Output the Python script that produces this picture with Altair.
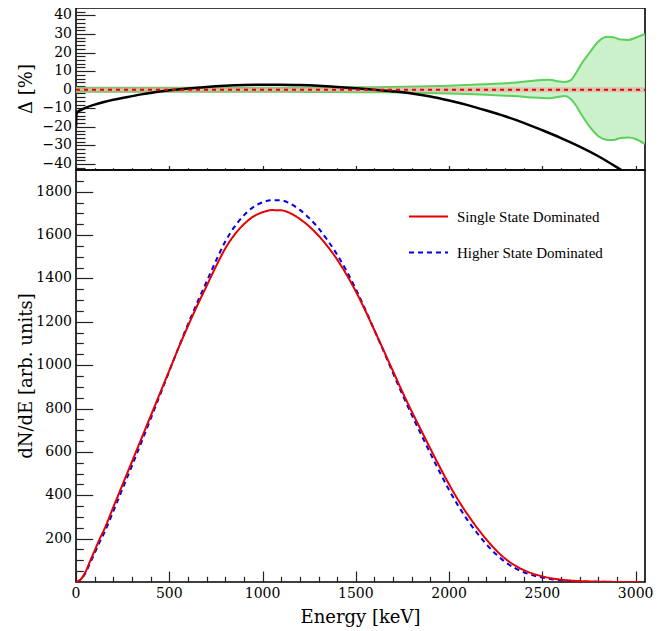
import altair as alt
import pandas as pd

# ---------------- data ----------------
SSD_NAME = "Single State Dominated"
HSD_NAME = "Higher State Dominated"

energy_kev = [0, 25, 50, 75, 100, 125, 150,
              200, 250, 300, 350, 400, 450, 500, 550, 600, 650, 700, 750, 800, 850, 900, 950, 1000,
              1050, 1100, 1150, 1200, 1250, 1300, 1350, 1400, 1450, 1500, 1550, 1600, 1650, 1700, 1750,
              1800, 1850, 1900, 1950, 2000, 2050, 2100, 2150, 2200, 2250, 2300, 2350, 2400, 2450, 2500,
              2550, 2600, 2700, 2800, 2900, 3000, 3034]
single_state = [0, 12, 45, 95, 145, 195, 240,
                345, 450, 555, 660, 765, 870, 975, 1080, 1180, 1275, 1365, 1455, 1538, 1602, 1650, 1685, 1705,
                1715, 1714, 1700, 1674, 1640, 1597, 1546, 1487, 1418, 1340, 1253, 1160, 1066, 971, 876,
                786, 700, 614, 530, 450, 376, 310, 250, 196, 148, 108, 78, 55, 38, 26,
                17, 11, 4, 1.5, 0.4, 0, 0]
higher_state = [0, 10.6, 40.6, 86.5, 133, 181, 224,
                326, 431, 536, 643, 752, 862, 972, 1082, 1188, 1289, 1385, 1481, 1570, 1639, 1691, 1729, 1751,
                1761, 1760, 1744, 1716, 1678, 1631, 1574, 1509, 1435, 1351, 1258, 1160, 1062, 962, 864,
                770, 680, 592, 506, 424, 350, 284, 226, 174, 129, 92.5, 65.5, 45, 30.5, 20.3,
                12.9, 8.1, 2.8, 1.0, 0.2, 0, 0]

delta_energy = [0, 3, 10, 30, 50, 100, 150, 200, 270, 350, 450, 500, 600, 700, 800, 900, 1000, 1100,
                1200, 1300, 1400, 1500, 1600, 1700, 1800, 1900, 2000, 2100, 2200, 2300, 2400, 2500,
                2600, 2700, 2800, 2900, 2935]
delta_percent = [-20, -13, -11.8, -10.8, -9.8, -8.0, -6.6, -5.4, -4.0, -2.5, -0.9, -0.3, 0.7, 1.5, 2.1,
                 2.5, 2.7, 2.7, 2.5, 2.1, 1.5, 0.8, 0.0, -0.9, -2.0, -3.6, -5.8, -8.3, -11.2, -14.3,
                 -17.8, -21.8, -26.0, -30.6, -35.8, -41.8, -44]

band_energy = [0, 250, 500, 750, 1000, 1250, 1500, 1750, 2000, 2100, 2200, 2300, 2400, 2450, 2500,
               2540, 2580, 2620, 2650, 2680, 2710, 2750, 2800, 2850, 2880, 2920, 2960, 3000, 3050]
band_upper = [1.1, 1.1, 1.1, 1.1, 1.1, 1.2, 1.3, 1.6, 2.2, 2.6, 3.0, 3.5, 4.3, 4.9, 5.3,
              5.4, 4.6, 4.2, 5.0, 9.0, 14.0, 19.5, 26.0, 28.5, 28.3, 27.0, 26.8, 28.0, 30.0]
band_lower = [-1.1, -1.1, -1.1, -1.1, -1.1, -1.2, -1.3, -1.5, -2.0, -2.3, -2.7, -3.2, -3.8, -4.2, -4.5,
              -4.6, -3.9, -3.4, -4.8, -8.5, -13.5, -19.5, -25.0, -27.0, -27.1, -26.0, -25.7, -26.5, -29.2]

zero_band_energy = [0, 3050]
zero_band_upper = [1.4, 1.4]
zero_band_lower = [-1.4, -1.4]
zero_line = [0, 0]

x_major = [0, 500, 1000, 1500, 2000, 2500, 3000]
x_minor = [e for e in range(0, 3050, 100) if e % 500 != 0]
top_y_major = [-40, -30, -20, -10, 0, 10, 20, 30, 40]
top_y_minor = [v for v in range(-42, 44, 2) if v % 10 != 0]
bot_y_major = [200, 400, 600, 800, 1000, 1200, 1400, 1600, 1800]
bot_y_minor = [v for v in range(50, 1900, 50) if v % 200 != 0]

TITLE_DELTA = "Δ [%]"
TITLE_Y = "dN/dE [arb. units]"
TITLE_X = "Energy [keV]"

# ---------------- layout ----------------
FONT_LEGEND = "Liberation Serif"
FONT = "DejaVu Serif"
W, H_TOP, H_BOT = 569, 162, 412
xs = alt.Scale(domain=[0, 3050], nice=False, zero=False)
ys_top = alt.Scale(domain=[-43.2, 44.0], nice=False, zero=False)
ys_bot = alt.Scale(domain=[0, 1900], nice=False, zero=False)


def tick_x(h, values, size):
    return alt.Axis(orient="top", offset=-h, values=values, labels=False, tickSize=size,
                    tickWidth=1.2, tickColor="#222222", domain=False, grid=False, title=None)


def tick_y(values, size):
    return alt.Axis(orient="right", offset=-W, values=values, labels=False, tickSize=size,
                    tickWidth=1.2, tickColor="#222222", domain=False, grid=False, title=None)


def tick_layers(df, xf, yf, yscale, h, xmaj, xmajs, xmin, xmins, ymaj, ymajs, ymin, ymins):
    a = alt.Chart(df).mark_point(opacity=0).encode(
        x=alt.X(xf, scale=xs, axis=tick_x(h, xmaj, xmajs)),
        y=alt.Y(yf, scale=yscale, axis=tick_y(ymaj, ymajs)))
    b = alt.Chart(df).mark_point(opacity=0).encode(
        x=alt.X(xf, scale=xs, axis=tick_x(h, xmin, xmins)),
        y=alt.Y(yf, scale=yscale, axis=tick_y(ymin, ymins)))
    return [a, b]


def y_labels(values, yscale, size):
    return alt.Chart(pd.DataFrame({"v": values})).mark_text(
        font=FONT, fontSize=size, color="black", align="right", baseline="middle").encode(
        x=alt.value(-4), y=alt.Y("v:Q", scale=yscale, axis=None), text=alt.Text("v:Q", format="d"))


def title_text(label, x, y, size, angle=0, baseline="middle"):
    return alt.Chart(pd.DataFrame({"t": [label]})).mark_text(
        font=FONT, fontSize=size, color="black", align="center", baseline=baseline,
        angle=angle).encode(x=alt.value(x), y=alt.value(y), text="t:N")


# ---------------- top panel ----------------
band_df = pd.DataFrame({"E": band_energy, "lo": band_lower, "hi": band_upper})
zb_df = pd.DataFrame({"E": zero_band_energy, "lo": zero_band_lower, "hi": zero_band_upper, "z": zero_line})
delta_df = pd.DataFrame({"E": delta_energy, "d": delta_percent})

band_area = alt.Chart(band_df).mark_area(color="#c4f0c4", opacity=0.9, clip=True,
                                         interpolate="monotone").encode(
    x=alt.X("E:Q", scale=xs, axis=None), y=alt.Y("lo:Q", scale=ys_top, axis=None), y2="hi:Q")
band_hi = alt.Chart(band_df).mark_line(color="#5ccf5c", strokeWidth=2, clip=True,
                                       interpolate="monotone").encode(
    x=alt.X("E:Q", scale=xs, axis=None), y=alt.Y("hi:Q", scale=ys_top, axis=None))
band_lo = alt.Chart(band_df).mark_line(color="#5ccf5c", strokeWidth=2, clip=True,
                                       interpolate="monotone").encode(
    x=alt.X("E:Q", scale=xs, axis=None), y=alt.Y("lo:Q", scale=ys_top, axis=None))
zero_band = alt.Chart(zb_df).mark_area(color="#ee9a9a", opacity=0.55).encode(
    x=alt.X("E:Q", scale=xs, axis=None), y=alt.Y("lo:Q", scale=ys_top, axis=None), y2="hi:Q")
zero_dash = alt.Chart(zb_df).mark_line(color="#e60000", strokeWidth=2, strokeDash=[4, 4]).encode(
    x=alt.X("E:Q", scale=xs, axis=None), y=alt.Y("z:Q", scale=ys_top, axis=None))
delta_line = alt.Chart(delta_df).mark_line(color="black", strokeWidth=2.5, clip=True,
                                           interpolate="monotone").encode(
    x=alt.X("E:Q", scale=xs, axis=None), y=alt.Y("d:Q", scale=ys_top, axis=None))

top = alt.layer(
    band_area, band_hi, band_lo, zero_band, delta_line, zero_dash,
    y_labels(top_y_major, ys_top, 14),
    title_text(TITLE_DELTA, -49, H_TOP / 2, 18, angle=270),
    *tick_layers(delta_df, "E:Q", "d:Q", ys_top, H_TOP, x_major, 4.5, x_minor, 2.3,
                 top_y_major, 19, top_y_minor, 9)
).resolve_axis(x="independent", y="independent").properties(width=W, height=H_TOP)

# ---------------- bottom panel ----------------
main_df = pd.concat([
    pd.DataFrame({"E": energy_kev, "v": higher_state, "series": HSD_NAME}),
    pd.DataFrame({"E": energy_kev, "v": single_state, "series": SSD_NAME}),
])

legend = alt.Legend(title=None, orient="none", legendX=332, legendY=26, symbolType="stroke",
                    symbolSize=1521, symbolStrokeWidth=2, labelFont=FONT_LEGEND, labelFontSize=15,
                    labelColor="black", labelOffset=8, rowPadding=7)

lines = alt.Chart(main_df).mark_line(strokeWidth=2, clip=True, interpolate="monotone").encode(
    x=alt.X("E:Q", scale=xs, axis=None),
    y=alt.Y("v:Q", scale=ys_bot, axis=None),
    color=alt.Color("series:N", scale=alt.Scale(domain=[SSD_NAME, HSD_NAME],
                                                range=["#e60000", "#0000ee"]), legend=legend),
    strokeDash=alt.StrokeDash("series:N", scale=alt.Scale(domain=[SSD_NAME, HSD_NAME],
                                                          range=[[1, 0], [5, 4]]), legend=legend),
)

x_labels = alt.Chart(pd.DataFrame({"v": x_major})).mark_text(
    font=FONT, fontSize=14, color="black", align="center", baseline="top").encode(
    x=alt.X("v:Q", scale=xs, axis=None), y=alt.value(H_BOT + 5), text=alt.Text("v:Q", format="d"))

bottom = alt.layer(
    lines,
    y_labels(bot_y_major, ys_bot, 14),
    x_labels,
    title_text(TITLE_Y, -49, H_BOT / 2, 18, angle=270),
    title_text(TITLE_X, W / 2, H_BOT + 41, 18, baseline="alphabetic"),
    *tick_layers(main_df, "E:Q", "v:Q", ys_bot, H_BOT, x_major, 11, x_minor, 5.7,
                 bot_y_major, 16.7, bot_y_minor, 7.3)
).resolve_axis(x="independent", y="independent").properties(width=W, height=H_BOT)

chart = alt.vconcat(top, bottom, spacing=0, bounds="flush").resolve_scale(
    x="independent", y="independent", color="independent", strokeDash="independent"
).properties(
    padding={"left": 9, "top": -1, "right": 0, "bottom": 0}
).configure_view(
    stroke="black", strokeWidth=1.6
).configure_legend(labelFont=FONT_LEGEND)

chart.save("out.html", embed_options={"renderer": "svg", "actions": False})
